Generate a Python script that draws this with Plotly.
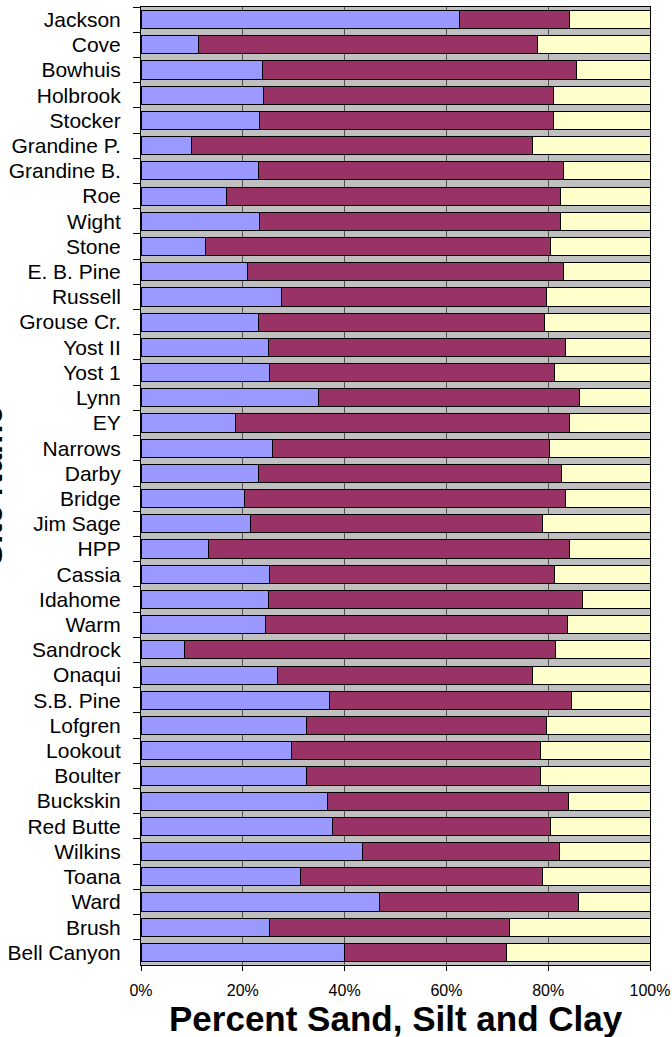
import plotly.graph_objects as go

# Sites, listed top to bottom
sites = [
    "Jackson", "Cove", "Bowhuis", "Holbrook", "Stocker", "Grandine P.",
    "Grandine B.", "Roe", "Wight", "Stone", "E. B. Pine", "Russell",
    "Grouse Cr.", "Yost II", "Yost 1", "Lynn", "EY", "Narrows", "Darby",
    "Bridge", "Jim Sage", "HPP", "Cassia", "Idahome", "Warm", "Sandrock",
    "Onaqui", "S.B. Pine", "Lofgren", "Lookout", "Boulter", "Buckskin",
    "Red Butte", "Wilkins", "Toana", "Ward", "Brush", "Bell Canyon",
]

# Percent sand, silt and clay for each site
sand = [62.5, 11.2, 23.9, 24.1, 23.2, 9.9, 23.0, 16.7, 23.2, 12.6, 20.9, 27.6,
        23.0, 25.0, 25.3, 34.9, 18.6, 25.8, 23.0, 20.4, 21.5, 13.2, 25.3, 25.0,
        24.4, 8.5, 26.8, 37.1, 32.5, 29.6, 32.5, 36.6, 37.7, 43.5, 31.3, 46.9,
        25.3, 40.0]
silt = [21.6, 66.6, 61.7, 56.9, 57.8, 67.1, 60.1, 65.8, 59.3, 67.8, 62.2, 52.0,
        56.3, 58.3, 56.0, 51.3, 65.5, 54.4, 59.7, 62.9, 57.3, 70.9, 56.0, 61.8,
        59.4, 73.0, 50.2, 47.4, 47.1, 48.8, 45.9, 47.3, 42.7, 38.7, 47.5, 39.0,
        47.1, 31.8]
clay = [15.9, 22.2, 14.4, 19.0, 19.0, 23.0, 16.9, 17.5, 17.5, 19.6, 16.9, 20.4,
        20.7, 16.7, 18.7, 13.8, 15.9, 19.8, 17.3, 16.7, 21.2, 15.9, 18.7, 13.2,
        16.2, 18.5, 23.0, 15.5, 20.4, 21.6, 21.6, 16.1, 19.6, 17.8, 21.2, 14.1,
        27.6, 28.2]

x_ticks = [0, 20, 40, 60, 80, 100]
x_tick_labels = ["0%", "20%", "40%", "60%", "80%", "100%"]

series = [
    ("Sand", sand, "#9999FF"),
    ("Silt", silt, "#993366"),
    ("Clay", clay, "#FFFFCC"),
]

fig = go.Figure()
for name, vals, color in series:
    fig.add_trace(go.Bar(
        name=name, y=sites, x=vals, orientation="h",
        marker=dict(color=color, line=dict(color="#000000", width=1)),
    ))

font_family = "Liberation Sans, Arial, sans-serif"

fig.update_layout(
    width=672, height=1037,
    margin=dict(l=141, r=22, t=7, b=72, autoexpand=False),
    barmode="stack", bargap=0.28,
    showlegend=False,
    paper_bgcolor="#FFFFFF", plot_bgcolor="#C0C0C0",
    font=dict(family=font_family, color="#000000"),
    xaxis=dict(
        range=[0, 100], tickvals=x_ticks, ticktext=x_tick_labels,
        tickfont=dict(size=16, family=font_family),
        showgrid=True, gridcolor="#505050", gridwidth=1,
        showline=True, linecolor="#000000", linewidth=1, mirror=True,
        ticks="outside", ticklen=5, tickcolor="#000000",
        ticklabelstandoff=6, automargin=False,
        zeroline=False, fixedrange=True,
    ),
    yaxis=dict(
        autorange="reversed", type="category",
        tickfont=dict(size=21, family=font_family),
        showgrid=False,
        showline=True, linecolor="#000000", linewidth=1, mirror=True,
        ticks="outside", ticklen=7, tickcolor="#000000", tickson="boundaries",
        ticklabelstandoff=15, automargin=False,
        fixedrange=True,
    ),
    annotations=[
        dict(text="<b>Percent Sand, Silt and Clay</b>", xref="paper", yref="paper",
             x=0.5, y=-0.056, xanchor="center", yanchor="middle", showarrow=False,
             font=dict(size=35, family=font_family, color="#000000")),
        dict(text="<b>Site Name</b>", xref="paper", yref="paper",
             x=-0.297, y=0.5, xanchor="center", yanchor="middle", showarrow=False,
             textangle=-90,
             font=dict(size=33, family=font_family, color="#000000")),
    ],
)

fig.write_html("out.html")
